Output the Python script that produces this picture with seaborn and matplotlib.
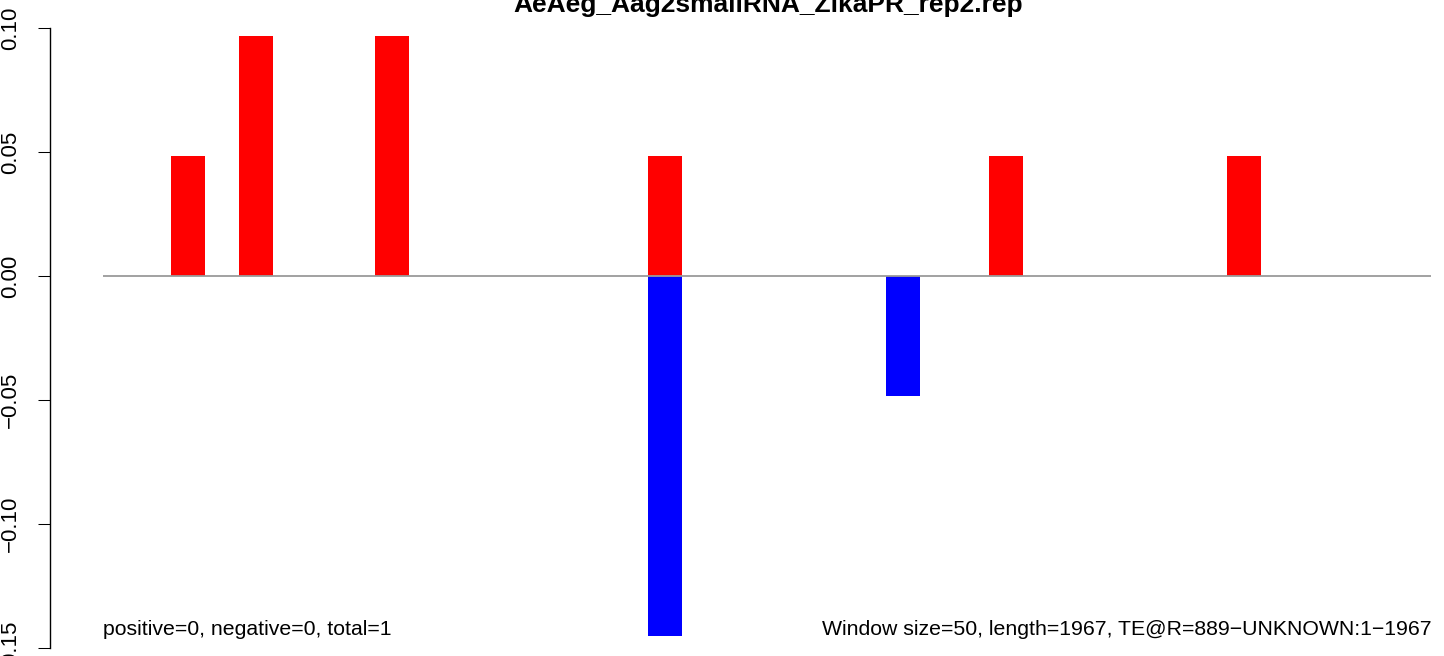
import numpy as np
import pandas as pd
import seaborn as sns
import matplotlib.pyplot as plt

# --- data ---
title = "AeAeg_Aag2smallRNA_ZikaPR_rep2.rep"
window_size = 50
seq_length = 1967
win_start = [100, 200, 400, 800, 1150, 1300, 1650]
pos_vals = [0.0484, 0.0968, 0.0968, 0.0484, 0.0, 0.0484, 0.0484]
neg_vals = [0.0, 0.0, 0.0, -0.1452, -0.0484, 0.0, 0.0]
y_ticks = [-0.15, -0.10, -0.05, 0.00, 0.05, 0.10]
left_note = "positive=0, negative=0, total=1"
right_note = "Window size=50, length=1967, TE@R=889\u2212UNKNOWN:1\u22121967"

sns.set_theme(style="white")
plt.rcParams['font.family'] = ['Liberation Sans', 'DejaVu Sans']
plt.rcParams['text.color'] = 'black'

df = pd.DataFrame({'start': win_start, 'pos': pos_vals, 'neg': neg_vals})
df['mid'] = df['start'] + window_size / 2

fig = plt.figure(figsize=(14.44, 6.56), dpi=100)
# plot region runs a bit past the picture edges, like the cropped R device
ax = fig.add_axes([50 / 1444, -17 / 656, 1436 / 1444, 670 / 656])

# sense (red) and antisense (blue) bars
sns.barplot(data=df, x='mid', y='pos', native_scale=True, orient='x',
            color='#FF0000', saturation=1, width=0.5, errorbar=None,
            linewidth=0, ax=ax)
sns.barplot(data=df, x='mid', y='neg', native_scale=True, orient='x',
            color='#0000FF', saturation=1, width=0.5, errorbar=None,
            linewidth=0, ax=ax)

# zero line across the sequence
last_start = (seq_length // window_size) * window_size
ax.hlines(0, 0, last_start, color='#9a9a9a', lw=1.3, zorder=3)

ax.set_xlim(-77.6, 2030)
ax.set_ylim(-0.16, 0.11)

for side in ['top', 'right', 'bottom']:
    ax.spines[side].set_visible(False)
ax.spines['left'].set_bounds(y_ticks[0], y_ticks[-1])
ax.spines['left'].set_color('black')
ax.spines['left'].set_linewidth(1.0)

ax.set_xticks([])
ax.set_yticks(y_ticks)
ax.set_yticklabels([f"{v:.2f}".replace('-', '\u2212') for v in y_ticks],
                   rotation=90, va='center')
ax.tick_params(axis='y', left=True, length=8.6, width=0.75, pad=12,
               labelsize=16, direction='out', colors='black')
ax.set_xlabel('')
ax.set_ylabel('')

ax.text(0, -0.1448, left_note, ha='left', va='baseline', fontsize=15.3,
        color='black')
ax.text(last_start, -0.1448, right_note, ha='right', va='baseline',
        fontsize=15.3, color='black')

fig.text(768 / 1444, 1 - 12 / 656, title, ha='center', va='baseline',
         fontsize=19, fontweight='bold', color='black')

fig.savefig('out.png', dpi=100)
